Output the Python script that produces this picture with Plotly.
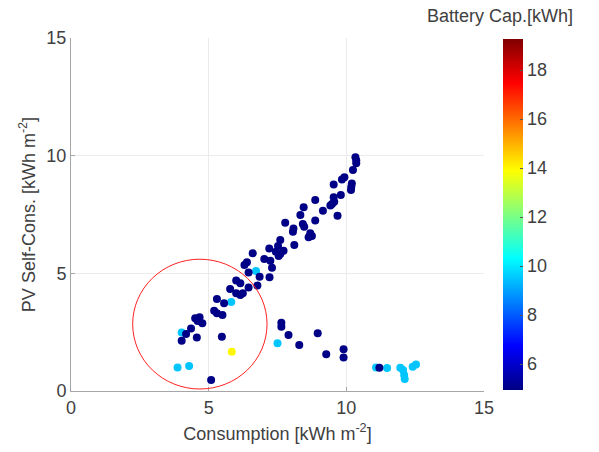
import plotly.graph_objects as go

# ---- data ----
consumption = [
    # light-blue points (~9.5 kWh battery)
    6.72, 5.82, 4.02, 3.87, 4.29, 7.50, 11.08, 11.48, 11.96, 12.06, 12.10, 12.12, 12.41, 12.53,
    # yellow point
    5.84,
    # dark-blue points (~5 kWh battery) - upper branch
    10.33, 10.36, 10.36, 10.24, 9.93, 9.84, 9.54, 10.20, 10.18, 10.17, 9.80, 9.54, 9.56, 9.48, 9.42,
    8.87, 8.45, 9.15, 9.68, 8.33, 8.87, 7.78, 8.42, 8.47, 8.08, 8.06, 8.69, 8.63, 8.75,
    7.60, 8.11, 7.52, 7.20, 7.44, 7.72, 7.60, 7.54, 6.60, 7.02, 7.24, 7.30, 6.39, 6.30,
    6.45, 6.85, 7.21, 6.00, 6.15, 5.78, 6.00, 6.15, 6.24, 6.45, 6.77,
    5.30, 5.56, 5.20, 5.30, 5.50, 4.51, 4.67, 4.77, 4.60, 4.36, 4.18, 4.57, 4.02, 5.48, 5.09,
    # dark-blue points - lower branch
    7.64, 7.64, 7.90, 8.29, 8.96, 9.27, 9.90, 9.90, 11.20,
]
self_cons = [
    5.10, 3.78, 2.49, 1.00, 1.06, 2.03, 1.00, 0.98, 0.99, 0.89, 0.68, 0.51, 1.03, 1.13,
    1.67,
    9.93, 9.79, 9.68, 9.39, 9.08, 8.99, 8.78, 8.82, 8.68, 8.54, 8.33, 8.23, 8.04, 7.95, 7.88,
    8.12, 7.81, 7.66, 7.45, 7.48, 7.24, 7.15, 7.10, 6.98, 6.91, 6.77, 6.70, 6.53, 6.59,
    6.42, 6.20, 6.16, 6.06, 5.92, 5.96, 5.82, 5.74, 5.85, 5.61, 5.54, 5.24, 5.47, 5.35,
    5.04, 4.86, 4.83, 4.70, 4.58, 4.33, 4.15, 4.08, 4.15, 4.40, 4.48,
    3.91, 3.73, 3.41, 3.30, 3.23, 3.09, 3.13, 2.88, 2.97, 2.66, 2.42, 2.27, 2.14, 2.31, 0.47,
    2.90, 2.73, 2.38, 1.95, 2.45, 1.56, 1.77, 1.42, 0.99,
]
battery = [9.5] * 14 + [14.0] + [5.0] * 69 + [5.0] * 9

x_ticks = [0, 5, 10, 15]
y_ticks = [0, 5, 10, 15]
cb_ticks = [6, 8, 10, 12, 14, 16, 18]
cb_range = [4.94, 19.27]
highlight = dict(x0=2.24, x1=7.12, y0=0.085, y1=5.6)  # hand-drawn red circle

jet = [
    [0.0, "rgb(0,0,131)"],
    [0.125, "rgb(0,0,255)"],
    [0.375, "rgb(0,255,255)"],
    [0.625, "rgb(255,255,0)"],
    [0.875, "rgb(255,0,0)"],
    [1.0, "rgb(128,0,0)"],
]

FONT = "Liberation Sans, Arial, sans-serif"
TXT = "#404040"
FS = 18

fig = go.Figure()
fig.add_trace(go.Scatter(
    x=consumption, y=self_cons, mode="markers",
    marker=dict(
        size=8, color=battery, colorscale=jet,
        cmin=cb_range[0], cmax=cb_range[1],
        line=dict(width=0),
        colorbar=dict(
            x=1.046, xanchor="left", y=0.5, yanchor="middle",
            len=0.995, lenmode="fraction", thickness=20, thicknessmode="pixels",
            tickvals=cb_ticks, ticks="inside", ticklen=3, tickcolor="#555",
            tickfont=dict(family=FONT, size=FS, color=TXT),
            outlinewidth=0, xpad=0, ypad=0,
        ),
    ),
    showlegend=False,
))

fig.add_shape(type="circle", xref="x", yref="y",
              x0=highlight["x0"], x1=highlight["x1"],
              y0=highlight["y0"], y1=highlight["y1"],
              line=dict(color="#ff2020", width=1))

fig.add_annotation(text="Battery Cap.[kWh]", xref="paper", yref="paper",
                   x=1.039, y=1.062, xanchor="center", yanchor="middle",
                   showarrow=False, font=dict(family=FONT, size=FS, color=TXT))

axis_common = dict(
    showgrid=True, gridcolor="#ebebeb", gridwidth=1,
    zeroline=False, showline=True, linecolor="#a6a6a6", linewidth=1,
    ticks="inside", ticklen=4, tickcolor="#a6a6a6",
    tickfont=dict(family=FONT, size=FS, color=TXT),
)

fig.update_layout(
    width=599, height=452,
    margin=dict(l=71, r=115, t=38, b=61),
    paper_bgcolor="white", plot_bgcolor="white",
    font=dict(family=FONT, color=TXT),
    xaxis=dict(range=[0, 15], tickvals=x_ticks,
               title=dict(text="Consumption [kWh m<sup>-2</sup>]",
                          font=dict(family=FONT, size=FS, color=TXT), standoff=10),
               **axis_common),
    yaxis=dict(range=[0, 15], tickvals=y_ticks,
               title=dict(text="PV Self-Cons. [kWh m<sup>-2</sup>]",
                          font=dict(family=FONT, size=FS, color=TXT), standoff=6),
               **axis_common),
)

fig.write_html("out.html")
